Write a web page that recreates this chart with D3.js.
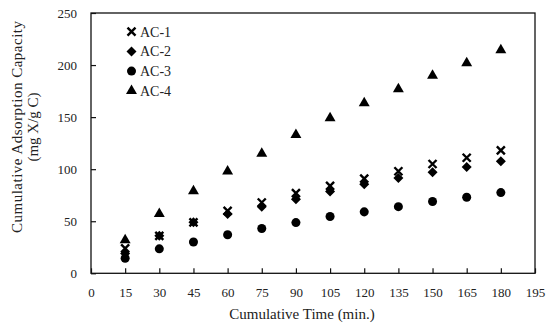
<!DOCTYPE html>
<html><head><meta charset="utf-8">
<script src="https://cdn.jsdelivr.net/npm/d3@7/dist/d3.min.js"></script>
<style>body{margin:0;background:#fff}svg{display:block}text{font-family:"Liberation Serif","Times New Roman",serif;fill:#222}</style>
</head><body><svg id="c" width="550" height="329"></svg>
<script>
const times = [15,30,45,60,75,90,105,120,135,150,165,180];
const seriesNames = ["AC-1","AC-2","AC-3","AC-4"];
const ac1 = [24,36,49,60,68,77,84,91,98,105,111,118];
const ac2 = [19,36,49,57,64,71,78.5,85.5,91.5,97,102,107.5];
const ac3 = [14.5,23.5,30,37,43,48.7,54.5,59,64,69,73,77.5];
const ac4 = [32,57,79,98,115,133,149,163.5,177,190,202,214.5];
const xTicks = [0,15,30,45,60,75,90,105,120,135,150,165,180,195];
const yTicks = [0,50,100,150,200,250];
const xTitle = "Cumulative Time (min.)";
const yTitle1 = "Cumulative  Adsorption Capacity";
const yTitle2 = "(mg X/g C)";

const svg = d3.select("#c");
const L=91,R=535,T=13,B=273.3;
const x = d3.scaleLinear().domain([0,195]).range([L,R]);
const y = d3.scaleLinear().domain([0,250]).range([B,T]);
const col="#111";

svg.append("rect").attr("x",L).attr("y",T).attr("width",R-L).attr("height",B-T)
  .attr("fill","none").attr("stroke",col).attr("stroke-width",1.3);

const xa = svg.append("g").attr("transform",`translate(0,${B})`)
  .call(d3.axisBottom(x).tickValues(xTicks).tickSize(-5).tickPadding(14).tickFormat(d3.format("d")));
const ya = svg.append("g").attr("transform",`translate(${L},0)`)
  .call(d3.axisLeft(y).tickValues(yTicks).tickSize(-5).tickPadding(14).tickFormat(d3.format("d")));
[xa,ya].forEach(a=>{
  a.select(".domain").remove();
  a.selectAll(".tick line").attr("stroke",col).attr("stroke-width",1.2);
  a.selectAll(".tick text").style("font-family",'"Liberation Serif",serif').style("font-size","13px").attr("fill","#222");
});

svg.append("text").attr("x",302).attr("y",319).attr("text-anchor","middle")
  .style("font-size","15px").text(xTitle);
const yt = svg.append("text").attr("transform","translate(21.5,127) rotate(-90)").attr("text-anchor","middle").style("font-size","15px");
yt.append("tspan").attr("x",0).attr("dy",0).attr("textLength",212).text(yTitle1);
yt.append("tspan").attr("x",0).attr("dy",16.5).text(yTitle2);

function shape(sel, i){
  if(i===0){
    sel.append("path").attr("d","M-4,-4L4,4M-4,4L4,-4").attr("stroke","#000").attr("stroke-width",2.4).attr("fill","none");
  } else if(i===1){
    sel.append("path").attr("d",d3.symbol(d3.symbolSquare,50)()).attr("transform","rotate(45)").attr("fill","#000");
  } else if(i===2){
    sel.append("path").attr("d",d3.symbol(d3.symbolCircle,64)()).attr("fill","#000");
  } else {
    sel.append("path").attr("d",d3.symbol(d3.symbolTriangle,52)()).attr("fill","#000");
  }
}
const data=[ac1,ac2,ac3,ac4];
[3,2,1,0].forEach(i=>{
  const g = svg.append("g");
  data[i].forEach((v,j)=>{
    const m = g.append("g").attr("transform",`translate(${x(times[j])},${y(v)})`);
    shape(m,i);
  });
});

seriesNames.forEach((n,i)=>{
  const yy = 31.7 + i*19.7;
  const m = svg.append("g").attr("transform",`translate(131.5,${yy})`);
  shape(m,i);
  svg.append("text").attr("x",140).attr("y",yy).attr("dy","0.35em").style("font-size","14px").text(n);
});
</script></body></html>
